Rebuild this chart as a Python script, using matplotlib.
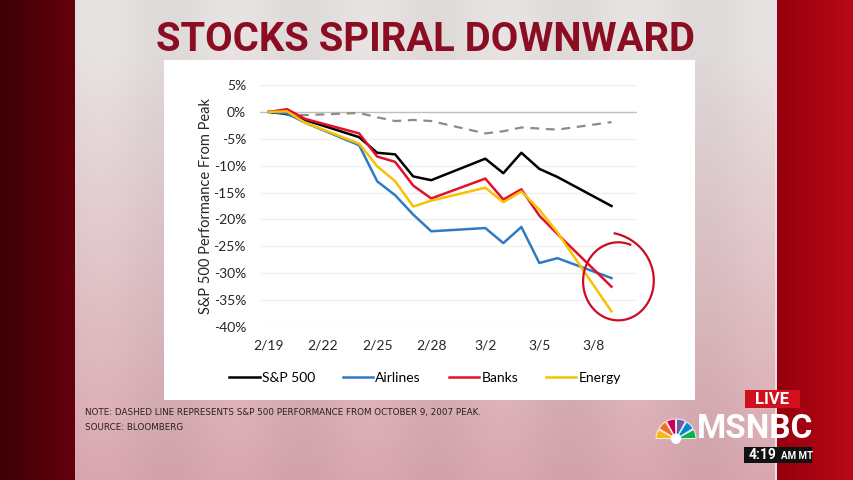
import numpy as np
import pandas as pd
import matplotlib
matplotlib.use('Agg')
import matplotlib.pyplot as plt
from matplotlib import patches

# data (performance from peak, %)
dates = pd.to_datetime(['2020-02-19', '2020-02-20', '2020-02-21', '2020-02-24', '2020-02-25',
                        '2020-02-26', '2020-02-27', '2020-02-28', '2020-03-02', '2020-03-03',
                        '2020-03-04', '2020-03-05', '2020-03-06', '2020-03-09'])
sp500 = [0, -0.4, -1.5, -4.7, -7.6, -7.9, -12.0, -12.7, -8.7, -11.4, -7.6, -10.6, -12.1, -17.5]
airlines = [0, -0.3, -2.0, -6.2, -12.9, -15.5, -19.1, -22.2, -21.6, -24.4, -21.4, -28.1, -27.2, -30.9]
banks = [0, 0.5, -1.3, -4.0, -8.3, -9.3, -13.7, -16.1, -12.4, -16.3, -14.4, -19.3, -22.7, -32.5]
energy = [0, 0.1, -2.0, -5.9, -10.1, -12.9, -17.6, -16.5, -14.1, -16.8, -14.8, -18.2, -22.4, -37.1]
sp500_2007 = [0, -0.5, -0.6, -0.2, -1.0, -1.7, -1.5, -1.7, -4.0, -3.6, -2.9, -3.1, -3.3, -1.9]

xtick_dates = pd.date_range('2020-02-19', '2020-03-08', freq='3D')
xtick_labels = ['2/19', '2/22', '2/25', '2/28', '3/2', '3/5', '3/8']
ytick_values = list(range(5, -45, -5))

W, H = 854, 480
fig = plt.figure(figsize=(W / 100, H / 100), dpi=100)

# ---- TV background / decoration layer (pixel coordinates) ----
bg = fig.add_axes([0, 0, 1, 1])
bg.set_xlim(0, W)
bg.set_ylim(H, 0)
bg.axis('off')

yy = np.linspace(0, 1, H)[:, None]
xx = np.linspace(0, 1, W)[None, :]
img = np.zeros((H, W, 3))
top = np.array([228, 223, 223]) / 255
bot = np.array([214, 164, 172]) / 255
t = np.clip(yy * 1.1 - 0.1, 0, 1)[..., None]
img[:] = top * (1 - t) + bot * t
img *= (1 - 0.02 * np.sin(xx * 40)[..., None])
x_px = np.arange(W)
left = x_px < 75
lg = (x_px[left] / 75.0)[None, :, None]
img[:, left] = (np.array([60, 0, 6]) / 255) * (1 - lg) + (np.array([100, 0, 12]) / 255) * lg
right = x_px >= 777
rg = ((x_px[right] - 777) / 77.0)[None, :, None]
img[:, right] = (np.array([150, 0, 14]) / 255) * (1 - rg) + (np.array([185, 8, 22]) / 255) * rg
img[:, 775:777] = np.array([235, 225, 225]) / 255
bg.imshow(np.clip(img, 0, 1), extent=(0, W, H, 0), aspect='auto')

# white chart card
bg.add_patch(patches.Rectangle((164, 60), 531, 340, facecolor='white', edgecolor='none'))

bg.text(426, 40, 'STOCKS SPIRAL DOWNWARD', ha='center', va='center', fontsize=28.8,
        fontweight='bold', color='#8b0d22', family='Roboto')

bg.text(85, 413, 'NOTE: DASHED LINE REPRESENTS S&P 500 PERFORMANCE FROM OCTOBER 9, 2007 PEAK.',
        ha='left', va='center', fontsize=6.3, color='#2a2020')
bg.text(85, 428, 'SOURCE: BLOOMBERG', ha='left', va='center', fontsize=6.3, color='#2a2020')

# MSNBC bug
bg.add_patch(patches.Rectangle((745, 390), 55, 18, facecolor='#d0101c', edgecolor='none'))
bg.text(772, 399.5, 'LIVE', ha='center', va='center', fontsize=12, fontweight='bold',
        color='white', family='Roboto')
feathers = ['#fcb711', '#f37021', '#cc004c', '#6460aa', '#0089d0', '#0db14b']
for i, c in enumerate(feathers):
    a0 = 180 + i * 30 + 2
    bg.add_patch(patches.Wedge((676, 439), 20, a0, a0 + 26, width=15, facecolor=c,
                               edgecolor='white', linewidth=0.6))
bg.add_patch(patches.Circle((676, 439), 5, facecolor='white', edgecolor='none'))
bg.text(697, 429, 'MSNBC', ha='left', va='center', fontsize=24, fontweight='bold',
        color='white', family='Roboto')
bg.add_patch(patches.Rectangle((744, 447), 68, 16, facecolor='#111111', edgecolor='none'))
bg.text(749, 455, '4:19', ha='left', va='center', fontsize=10, fontweight='bold',
        color='white', family='Roboto')
bg.text(781, 456, 'AM MT', ha='left', va='center', fontsize=7, fontweight='bold',
        color='white', family='Roboto')

# ---- the chart itself ----
plt.rcParams['font.family'] = ['Lato', 'DejaVu Sans']
ax = fig.add_axes([260 / W, 1 - 327 / H, 377 / W, 242 / H])
ax.patch.set_alpha(0)
for s in ax.spines.values():
    s.set_visible(False)

for v in ytick_values:
    ax.axhline(v, color='#bfbfbf' if v == 0 else '#efefef', linewidth=1.0, zorder=0)

ax.plot(dates, sp500_2007, color='#8e8e7e', linewidth=1.6, linestyle=(0, (4, 3)))
ax.plot(dates, sp500, color='black', linewidth=1.8, label='S&P 500')
ax.plot(dates, airlines, color='#2e7bc4', linewidth=1.8, label='Airlines')
ax.plot(dates, banks, color='#e3102c', linewidth=1.8, label='Banks')
ax.plot(dates, energy, color='#f7c200', linewidth=1.8, label='Energy')

ax.set_xlim(pd.Timestamp('2020-02-18 12:00'), pd.Timestamp('2020-03-10 10:00'))
ax.set_ylim(-40, 5)
ax.set_xticks(xtick_dates)
ax.set_xticklabels(xtick_labels)
ax.set_yticks(ytick_values)
ax.set_yticklabels([f'{v}%' for v in ytick_values])
ax.tick_params(length=0, labelsize=10, colors='#262626')
ax.tick_params(axis='y', pad=10)
ax.tick_params(axis='x', pad=9)
ax.set_ylabel('S&P 500 Performance From Peak', fontsize=10.5, color='#262626')
ax.yaxis.set_label_coords(-0.125, 0.5)

# hand-drawn circle around the last points (clockwise from the top, tail first)
th = np.linspace(np.radians(95), np.radians(95 - 385), 240)
decay = np.exp(-(th[0] - th) / 0.7)
rx = 1.95 + 0.25 * decay
ry = 7.25 + 1.7 * decay
cx = pd.Timestamp('2020-03-09 09:00')
circ_x = [cx + pd.Timedelta(days=float(d)) for d in rx * np.cos(th)]
ax.plot(circ_x, -31.5 + ry * np.sin(th), color='#cc0c25', linewidth=1.6, clip_on=False)

fig.legend(loc='center', bbox_to_anchor=(425 / W, 1 - 378 / H), ncol=4, frameon=False,
           fontsize=10, handlelength=2.2, handletextpad=0.15, columnspacing=2.0)

fig.savefig('out.png', dpi=100)
